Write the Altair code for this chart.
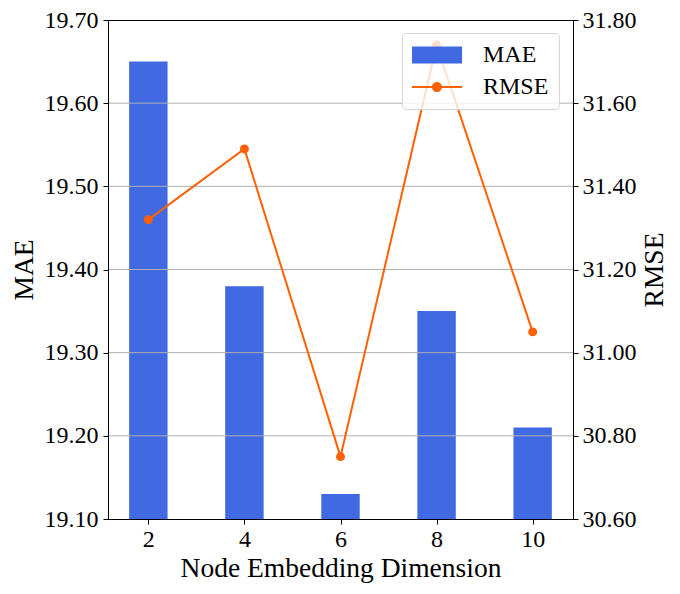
import altair as alt
import pandas as pd

# ---- data ----
dims = [2, 4, 6, 8, 10]
mae = [19.65, 19.38, 19.13, 19.35, 19.21]
rmse = [31.32, 31.49, 30.75, 31.74, 31.05]
mae_ticks = [19.10, 19.20, 19.30, 19.40, 19.50, 19.60, 19.70]
rmse_ticks = [30.60, 30.80, 31.00, 31.20, 31.40, 31.60, 31.80]
grid_values = [19.20, 19.30, 19.40, 19.50, 19.60]
series = ["MAE", "RMSE"]
colors = ["#4169e1", "#ff6000"]

df = pd.DataFrame({"dim": dims, "MAE": mae, "RMSE": rmse})
grid_df = pd.DataFrame({"g": grid_values})

FONT = "Liberation Serif"
XTITLE = "Node Embedding Dimension"

xscale = alt.Scale(domain=[1.16, 10.84], nice=False, zero=False)
yl_scale = alt.Scale(domain=[19.1, 19.7], nice=False, zero=False)
yr_scale = alt.Scale(domain=[30.6, 31.8], nice=False, zero=False)

x_axis = alt.Axis(values=dims, format="d", grid=False, title=XTITLE,
                  labelPadding=3, titlePadding=3, zindex=1)
yl_axis = alt.Axis(values=mae_ticks, format=".2f", grid=False, title="MAE",
                   labelPadding=5, titlePadding=6, zindex=1)
yr_axis = alt.Axis(values=rmse_ticks, format=".2f", grid=False, title="RMSE",
                   orient="right", labelPadding=4, titlePadding=4,
                   titleAngle=270, titleBaseline="top", zindex=1)

# legend symbols (custom paths, scaled by sqrt(symbolSize)/2 = 12 px),
# shifted so that their left edge sits at the entry's left edge
rect_path = "M-1,-0.71H3.17V0.71H-1Z"
linedot_path = ("M-1,-0.085H3.17V0.085H-1Z "
                "M1.5,0A0.42,0.42 0 1,1 0.66,0A0.42,0.42 0 1,1 1.5,0Z")

leg = alt.Legend(title=None, orient="none", legendX=294, legendY=13,
                 direction="vertical", symbolSize=576, symbolStrokeWidth=0,
                 symbolOpacity=1, labelFont=FONT, labelFontSize=24,
                 labelColor="black", labelOffset=47, rowPadding=8,
                 padding=10, fillColor="rgba(255,255,255,0.8)",
                 strokeColor="#d5d5d5", cornerRadius=4, labelLimit=0)

base = alt.Chart(df)

bars = base.transform_calculate(
    x0="datum.dim - 0.4", x1="datum.dim + 0.4"
).mark_bar(color=colors[0]).encode(
    x=alt.X("x0:Q", scale=xscale, axis=x_axis, title=XTITLE),
    x2="x1:Q",
    y=alt.Y("MAE:Q", scale=yl_scale, axis=yl_axis, title="MAE"),
    y2=alt.datum(mae_ticks[0]),
)

grid = alt.Chart(grid_df).mark_rule(color="#b0b0b0", strokeWidth=1).encode(
    y=alt.Y("g:Q", scale=yl_scale, axis=yl_axis, title="MAE"),
)

left = alt.layer(bars, grid)

line = base.mark_line(color=colors[1], strokeWidth=2).encode(
    x=alt.X("dim:Q", scale=xscale, axis=x_axis, title=XTITLE),
    y=alt.Y("RMSE:Q", scale=yr_scale, axis=yr_axis, title="RMSE"),
)

points = base.mark_circle(color=colors[1], size=80, opacity=1).encode(
    x=alt.X("dim:Q", scale=xscale, axis=x_axis, title=XTITLE),
    y=alt.Y("RMSE:Q", scale=yr_scale, axis=yr_axis, title="RMSE"),
)

legend_layer = base.transform_calculate(series="'RMSE'").mark_point(
    filled=True, opacity=0
).encode(
    x=alt.X("dim:Q", scale=xscale, axis=x_axis, title=XTITLE),
    y=alt.Y("RMSE:Q", scale=yr_scale, axis=yr_axis, title="RMSE"),
    color=alt.Color("series:N", scale=alt.Scale(domain=series, range=colors), legend=leg),
    shape=alt.Shape("series:N", scale=alt.Scale(domain=series, range=[rect_path, linedot_path]), legend=leg),
)

right = alt.layer(line, points, legend_layer)

chart = alt.layer(left, right).resolve_scale(y="independent").properties(
    width=465, height=499,
    autosize=alt.AutoSizeParams(type="none"),
    padding={"left": 100, "top": 12, "right": 99, "bottom": 67},
).configure_view(
    stroke="black", strokeWidth=1
).configure_axis(
    labelFont=FONT, labelFontSize=24, labelColor="black",
    titleFont=FONT, titleFontSize=27.5, titleFontWeight="normal", titleColor="black",
    domainColor="black", domainWidth=1, tickColor="black", tickWidth=1, tickSize=5,
)

chart.save("out.html", embed_options={"renderer": "svg", "actions": False})
